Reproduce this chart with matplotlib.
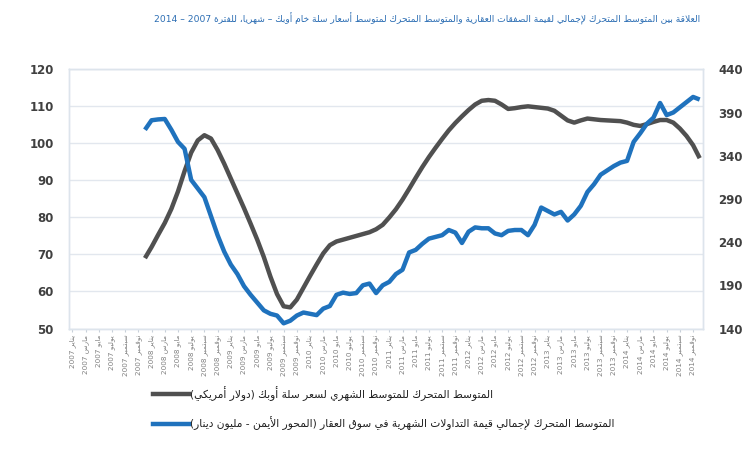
import re
import numpy as np
import matplotlib
matplotlib.use('Agg')
import matplotlib.pyplot as plt
from matplotlib.lines import Line2D

# ---------------- data ----------------
month_names = ['يناير', 'فبراير', 'مارس', 'أبريل', 'مايو', 'يونيو',
               'يوليو', 'أغسطس', 'سبتمبر', 'أكتوبر', 'نوفمبر', 'ديسمبر']
years = [2007, 2008, 2009, 2010, 2011, 2012, 2013, 2014]
categories = [f'{m} {y}' for y in years for m in month_names]   # monthly, Jan 2007 .. Dec 2014
series_start = 11  # first plotted month: Dec 2007

opec_ma = [69.0, 72.0, 75.3, 78.5, 82.3, 87.0, 92.5, 97.5, 100.8, 102.2,
           101.3, 98.2, 94.5, 90.5, 86.5, 82.5, 78.3, 74.0, 69.3, 64.0,
           59.3, 56.0, 55.7, 57.8, 61.0, 64.2, 67.3, 70.3, 72.5, 73.5,
           74.0, 74.5, 75.0, 75.5, 76.0, 76.8, 78.0, 80.0, 82.2, 84.8,
           87.7, 90.7, 93.6, 96.3, 98.8, 101.2, 103.5, 105.5, 107.3, 109.0,
           110.5, 111.5, 111.7, 111.5, 110.5, 109.3, 109.5, 109.8, 110.0, 109.8,
           109.6, 109.4, 108.8, 107.5, 106.2, 105.6, 106.2, 106.7, 106.5, 106.3,
           106.2, 106.1, 106.0, 105.6, 105.0, 104.7, 105.2, 105.8, 106.3, 106.3,
           105.6, 104.0, 102.0, 99.5, 96.0]

realestate_ma = [370, 381, 382, 382.5, 370, 356, 348, 312, 302, 292,
                 270, 248, 229, 214, 203, 189, 179, 170, 161, 157,
                 155, 146, 149, 155, 158.5, 157, 155.5, 163, 166, 179,
                 181.5, 180, 181, 190, 192, 181, 190, 194, 203, 208,
                 228, 231, 238, 244, 246, 248, 254, 251, 239, 252,
                 257, 256, 256, 250, 248, 253, 254, 254, 248, 260,
                 280, 276, 272, 275, 265, 272, 282, 298, 307, 318,
                 323, 328, 332, 334, 356, 366, 377, 384, 401, 387,
                 390, 396, 402, 408, 405]

left_ticks = [50, 60, 70, 80, 90, 100, 110, 120]
right_ticks = [140, 190, 240, 290, 340, 390, 440]

title_text = 'العلاقة بين المتوسط المتحرك لإجمالي لقيمة الصفقات العقارية والمتوسط المتحرك لمتوسط أسعار سلة خام أوبك – شهريا، للفترة 2007 – 2014'
label_opec = 'المتوسط المتحرك للمتوسط الشهري لسعر سلة أوبك (دولار أمريكي)'
label_re = 'المتوسط المتحرك لإجمالي قيمة التداولات الشهرية في سوق العقار (المحور الأيمن - مليون دينار)'

# ---------------- Arabic shaping (presentation forms) ----------------
FORMS = {'\u0621': (0xFE80, 1), '\u0622': (0xFE81, 2), '\u0623': (0xFE83, 2), '\u0624': (0xFE85, 2),
         '\u0625': (0xFE87, 2), '\u0626': (0xFE89, 4), '\u0627': (0xFE8D, 2), '\u0628': (0xFE8F, 4),
         '\u0629': (0xFE93, 2), '\u062A': (0xFE95, 4), '\u062B': (0xFE99, 4), '\u062C': (0xFE9D, 4),
         '\u062D': (0xFEA1, 4), '\u062E': (0xFEA5, 4), '\u062F': (0xFEA9, 2), '\u0630': (0xFEAB, 2),
         '\u0631': (0xFEAD, 2), '\u0632': (0xFEAF, 2), '\u0633': (0xFEB1, 4), '\u0634': (0xFEB5, 4),
         '\u0635': (0xFEB9, 4), '\u0636': (0xFEBD, 4), '\u0637': (0xFEC1, 4), '\u0638': (0xFEC5, 4),
         '\u0639': (0xFEC9, 4), '\u063A': (0xFECD, 4), '\u0641': (0xFED1, 4), '\u0642': (0xFED5, 4),
         '\u0643': (0xFED9, 4), '\u0644': (0xFEDD, 4), '\u0645': (0xFEE1, 4), '\u0646': (0xFEE5, 4),
         '\u0647': (0xFEE9, 4), '\u0648': (0xFEED, 2), '\u0649': (0xFEEF, 2), '\u064A': (0xFEF1, 4)}
LAM_ALEF = {'\u0622': 0xFEF5, '\u0623': 0xFEF7, '\u0625': 0xFEF9, '\u0627': 0xFEFB}


def _dual(c):
    return c in FORMS and FORMS[c][1] == 4


def _joining(c):
    return c in FORMS and FORMS[c][1] >= 2


def shape(text):
    out = []
    n = len(text)
    i = 0
    while i < n:
        c = text[i]
        if c not in FORMS:
            out.append(c)
            i += 1
            continue
        prev = text[i - 1] if i > 0 else ''
        pc = _dual(prev)
        nxt = text[i + 1] if i + 1 < n else ''
        if c == '\u0644' and nxt in LAM_ALEF:
            out.append(chr(LAM_ALEF[nxt] + (1 if pc else 0)))
            i += 2
            continue
        base, cnt = FORMS[c]
        nc = cnt == 4 and _joining(nxt)
        if cnt == 1:
            f = 0
        elif pc and nc:
            f = 3
        elif pc:
            f = 1
        elif nc:
            f = 2
        else:
            f = 0
        out.append(chr(base + f))
        i += 1
    return ''.join(out)


def ar(text):
    s = shape(text)[::-1]
    s = s.translate({ord('('): ')', ord(')'): '('})
    s = re.sub(r'[0-9A-Za-z.]+', lambda m: m.group(0)[::-1], s)
    return s


# ---------------- plot ----------------
plt.rcParams['font.family'] = ['DejaVu Sans']
AR_FAMILY = ['DejaVu Sans Condensed', 'DejaVu Sans']

fig = plt.figure(figsize=(7.48, 4.5), dpi=100)
ax = fig.add_axes([69 / 748, 1 - 328.5 / 450, 634 / 748, (328.5 - 69.3) / 450])
ax2 = ax.twinx()

x_all = np.arange(len(categories))
x_ser = x_all[series_start:series_start + len(opec_ma)]

gray = '#505050'
blue = '#1f72bd'
ax.plot(x_ser, opec_ma, color=gray, lw=3.2, solid_capstyle='butt', zorder=3)
ax2.plot(x_ser, realestate_ma, color=blue, lw=3.2, solid_capstyle='butt', zorder=3)

ax.set_xlim(-0.5, len(categories) - 0.5)
ax.set_ylim(50, 120)
ax2.set_ylim(140, 440)
ax.set_yticks(left_ticks)
ax2.set_yticks(right_ticks)
ax.yaxis.grid(True, color='#e2e7ee', lw=1.0)
ax.set_axisbelow(True)

tick_idx = x_all[::2]
ax.set_xticks(tick_idx)
ax.set_xticklabels([ar(categories[i]) for i in tick_idx], rotation=90,
                   fontsize=5.2, color='#808080')
ax.tick_params(axis='x', length=2, pad=2.5, color='#c8d0da')
ax.tick_params(axis='y', length=0, pad=11, labelsize=8.5, labelcolor='#404040')
ax2.tick_params(axis='y', length=0, pad=11, labelsize=8.5, labelcolor='#404040')
for t in ax.get_yticklabels() + ax2.get_yticklabels():
    t.set_fontweight('bold')

for a in (ax, ax2):
    for sp in a.spines.values():
        sp.set_color('#dde4ec')
        sp.set_linewidth(1.0)

renderer = fig.canvas.get_renderer()

# title, sized to span the same width as in the reference
title = fig.text(427 / 748, 1 - 19 / 450, ar(title_text), ha='center', va='center',
                 fontsize=10, color='#2b6db3', family=AR_FAMILY)
w = title.get_window_extent(renderer).width
title.set_fontsize(10 * 545 / w)

handles = [Line2D([], [], color=gray, lw=3.2), Line2D([], [], color=blue, lw=3.2)]


def make_legend(fs):
    leg = fig.legend(handles, [ar(label_opec), ar(label_re)], loc='upper left',
                     bbox_to_anchor=(153 / 748, 1 - 386 / 450), frameon=False,
                     prop={'size': fs, 'family': AR_FAMILY}, handlelength=36 / (fs * 1.389),
                     handletextpad=0.1, labelspacing=(26 - fs * 1.389) / (fs * 1.389),
                     borderaxespad=0, borderpad=0)
    for t in leg.get_texts():
        t.set_color('#202020')
    return leg


leg = make_legend(9)
fig.canvas.draw()
w = leg.get_texts()[0].get_window_extent(renderer).width
leg.remove()
leg = make_legend(9 * 302 / w)

fig.savefig('out.png', dpi=100)
